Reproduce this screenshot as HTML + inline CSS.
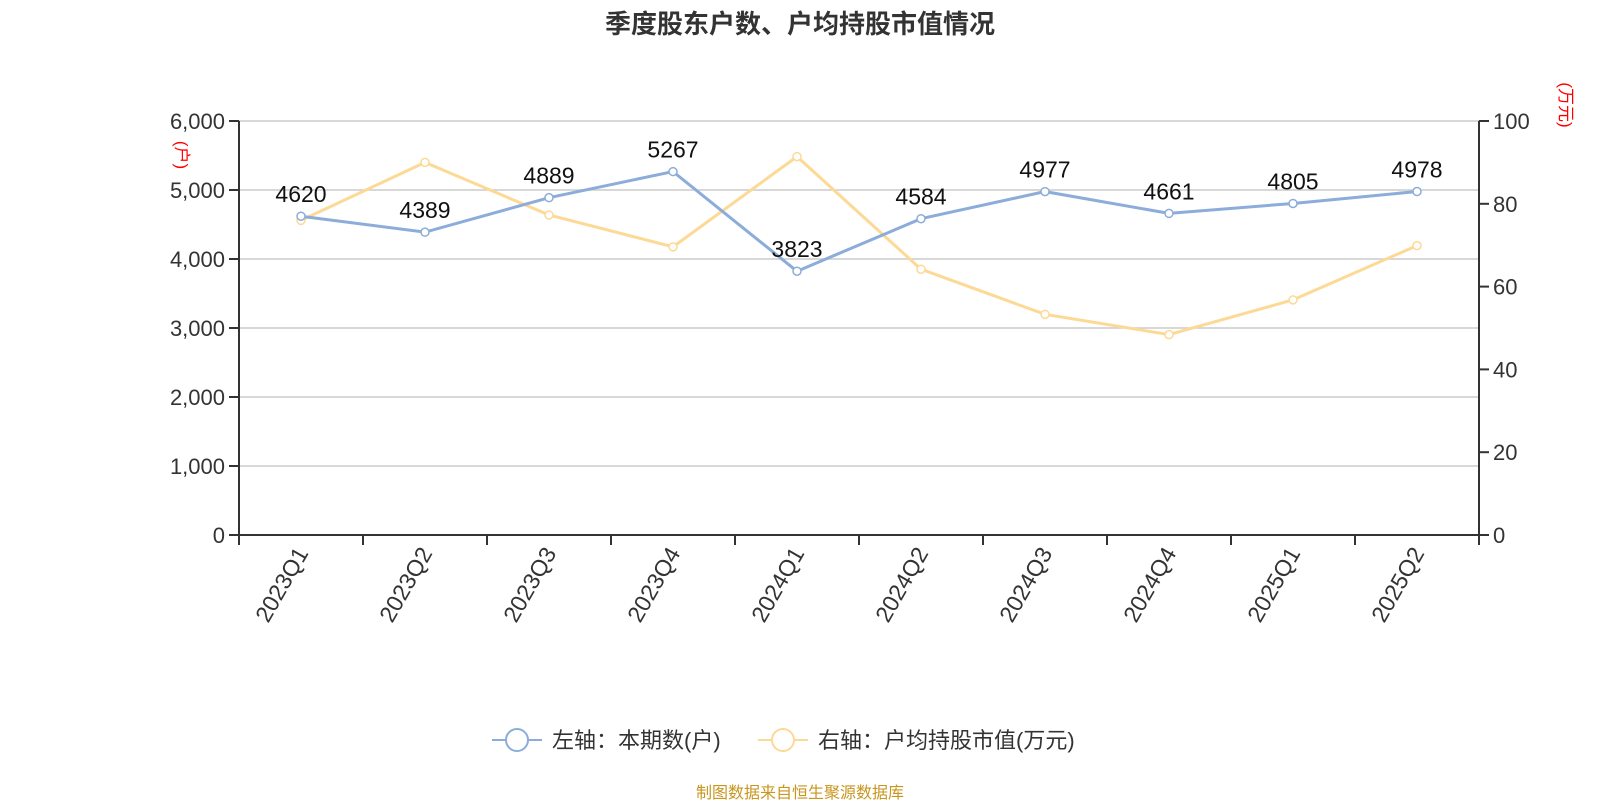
<!DOCTYPE html>
<html><head><meta charset="utf-8"><style>
body{margin:0;background:#fff;font-family:"Liberation Sans","Noto Sans CJK SC",sans-serif}
</style></head><body>
<svg id="c" width="1600" height="800" xmlns="http://www.w3.org/2000/svg" style="font-family:'Liberation Sans','Noto Sans CJK SC',sans-serif">
<text x="800" y="33" text-anchor="middle" font-size="26" font-weight="bold" fill="#333">季度股东户数、户均持股市值情况</text>
<text x="800" y="798" text-anchor="middle" font-size="16" fill="#c8961e">制图数据来自恒生聚源数据库</text>
<g id="g"></g>
</svg>
<script>
const categories=["2023Q1","2023Q2","2023Q3","2023Q4","2024Q1","2024Q2","2024Q3","2024Q4","2025Q1","2025Q2"];
const holders=[4620,4389,4889,5267,3823,4584,4977,4661,4805,4978];
const avgValue=[76,90,77.3,69.6,91.4,64.2,53.3,48.4,56.8,69.9];
const leftTicks=[0,1000,2000,3000,4000,5000,6000];
const rightTicks=[0,20,40,60,80,100];
const NS="http://www.w3.org/2000/svg",g=document.getElementById('g');
const L=239,R=1479,T=121,B=535;
const bw=(R-L)/categories.length;
const x=i=>L+bw*(i+0.5);
const yl=v=>B-(v/6000)*(B-T);
const yr=v=>B-(v/100)*(B-T);
function el(t,a,txt){const e=document.createElementNS(NS,t);for(const k in a)e.setAttribute(k,a[k]);if(txt!=null)e.textContent=txt;g.appendChild(e);return e;}
leftTicks.forEach(v=>{
 if(v>0){const e=el('line',{x1:L,x2:R,y1:yl(v),y2:yl(v),stroke:'#ccc','stroke-width':1.5});
 
 }
 const t=el('text',{x:L-14,y:yl(v)+8,'text-anchor':'end','font-size':22,fill:'#333'},v.toLocaleString('en-US'));
 
 
 el('line',{x1:L-10,x2:L,y1:yl(v),y2:yl(v),stroke:'#333','stroke-width':2});
});
rightTicks.forEach(v=>{
 const t=el('text',{x:R+14,y:yr(v)+8,'font-size':22,fill:'#333'},v);
 
 
 el('line',{x1:R,x2:R+10,y1:yr(v),y2:yr(v),stroke:'#333','stroke-width':2});
});
el('line',{x1:L,x2:L,y1:T,y2:B+10,stroke:'#333','stroke-width':2});
el('line',{x1:R,x2:R,y1:T,y2:B+10,stroke:'#333','stroke-width':2});
el('line',{x1:L,x2:R,y1:B,y2:B,stroke:'#333','stroke-width':2});
const u1=el('text',{x:176,y:155,'font-size':17,fill:'red','text-anchor':'middle',transform:'rotate(90 176 155)'},'(户)');


const u2=el('text',{x:1560,y:105,'font-size':17,fill:'red','text-anchor':'middle',transform:'rotate(90 1560 105)'},'(万元)');


categories.forEach((c,i)=>{
 el('line',{x1:L+bw*(i+1),x2:L+bw*(i+1),y1:B,y2:B+10,stroke:'#333','stroke-width':2});
 if(i==0)el('line',{x1:L,x2:L,y1:B,y2:B+10,stroke:'#333','stroke-width':2});
 const t=el('text',{x:x(i)+8,y:B+18,'text-anchor':'end','font-size':23,fill:'#333',transform:`rotate(-60 ${x(i)+8} ${B+18})`},c);
 
 
});
function series(vals,yf,color,name){
 const p=el('polyline',{points:vals.map((v,i)=>x(i)+','+yf(v)).join(' '),fill:'none',stroke:color,'stroke-width':3});
 
 
 vals.forEach((v,i)=>{const c=el('circle',{cx:x(i),cy:yf(v),r:4,fill:'#fff',stroke:color,'stroke-width':1.5});
 
 });
}
series(avgValue,yr,'#fdd996','avg-value');
series(holders,yl,'#8cacda','holders');
holders.forEach((v,i)=>{const t=el('text',{x:x(i),y:yl(v)-14,'text-anchor':'middle','font-size':23,fill:'#111'},v);
 
 });
const lg=[[492,'#8cacda','左轴：本期数(户)'],[758,'#fdd996','右轴：户均持股市值(万元)']];
lg.forEach(([lx,col,txt])=>{
 el('line',{x1:lx,x2:lx+50,y1:740,y2:740,stroke:col,'stroke-width':2});
 const c=el('circle',{cx:lx+25,cy:740,r:11,fill:'#fff',stroke:col,'stroke-width':2});
 
 
 const t=el('text',{x:lx+60,y:748,'font-size':22,fill:'#333'},txt);
 
 
});
</script>
</body></html>
